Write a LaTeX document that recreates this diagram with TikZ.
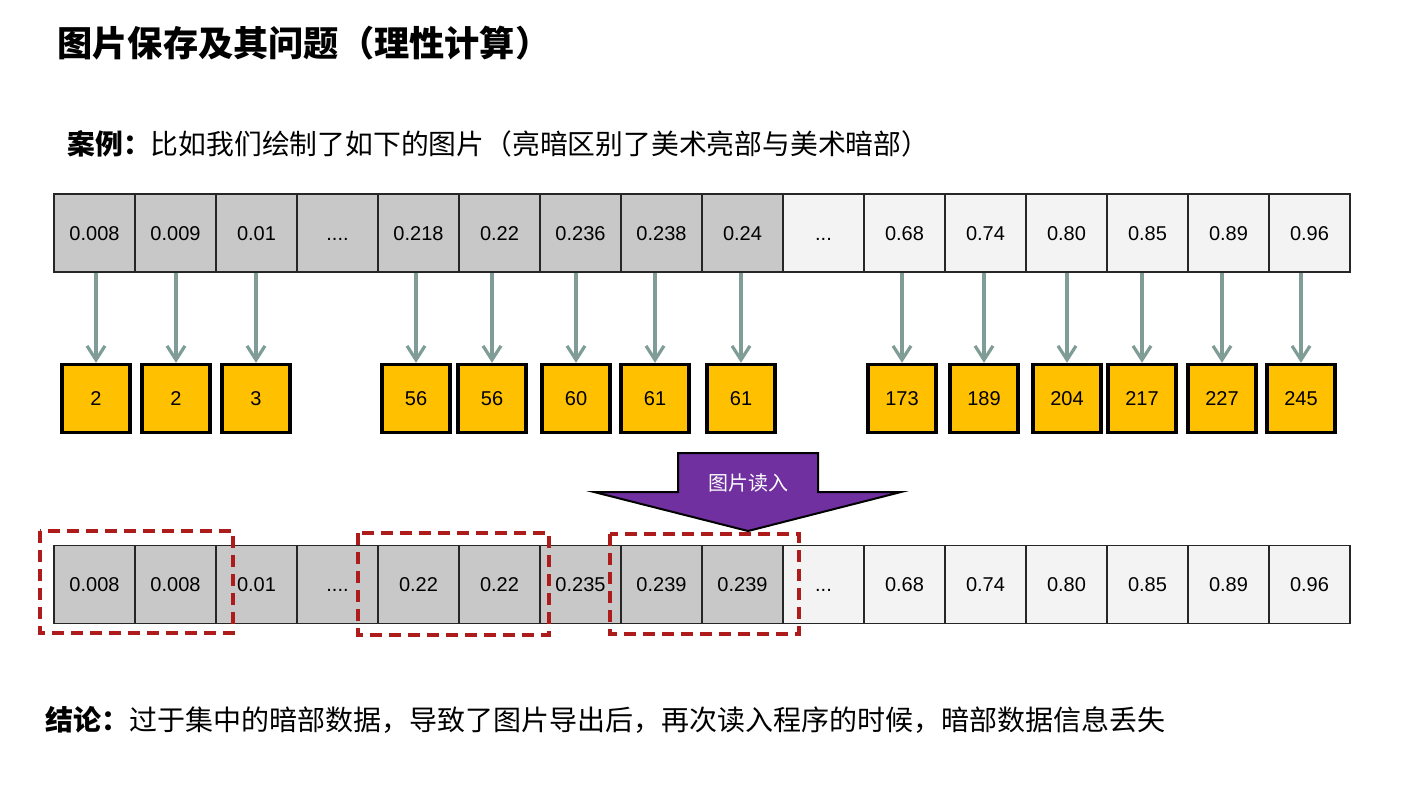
\documentclass[tikz,border=0pt]{standalone}
\usepackage{fontspec}
\setmainfont{Liberation Sans}
\newfontfamily\cjk{Noto Sans CJK SC}
\usetikzlibrary{positioning,arrows.meta}
\definecolor{cellgray}{HTML}{C8C8C8}
\definecolor{celllight}{HTML}{F3F3F3}
\definecolor{pixyellow}{HTML}{FFC000}
\definecolor{mapgreen}{HTML}{7F9C96}
\definecolor{readpurple}{HTML}{7030A0}
\definecolor{lossred}{HTML}{AE1B1B}
\newcommand\fourdot{....}
\newcommand\threedot{...}
\tikzset{
  cell/.style={draw=black!85,line width=0.6pt,minimum width=40.5pt,minimum height=39pt,inner sep=0pt,text height=7.2pt,text depth=0pt,font=\fontsize{10}{12}\selectfont},
  dark/.style={cell,fill=cellgray},
  light/.style={cell,fill=celllight},
  pix/.style={draw=black,line width=1.7pt,fill=pixyellow,minimum width=34pt,minimum height=34pt,inner sep=0pt,text height=7.2pt,text depth=0pt,font=\fontsize{10}{12}\selectfont},
  map/.style={draw=mapgreen,line width=1.6pt,-{Straight Barb[length=7pt,width=9pt]}},
  lost/.style={draw=lossred,line width=1.6pt,dash pattern=on 6pt off 3.5pt},
  line/.style={anchor=west,inner sep=0pt},
}
\begin{document}
\begin{tikzpicture}[x=0.5pt,y=-0.5pt]
\useasboundingbox[fill=white] (0,0) rectangle (1425,811);
\node[line,font=\cjk\bfseries\fontsize{17.6}{20}\selectfont] (title) at (57,43) {图片保存及其问题（理性计算）};
\node[line,font=\cjk\fontsize{13.9}{16}\selectfont] (case) at (67,144) {{\bfseries 案例：}比如我们绘制了如下的图片（亮暗区别了美术亮部与美术暗部）};
% values before saving
\foreach \v/\s [count=\i] in {0.008/dark,0.009/dark,0.01/dark,\fourdot/dark,0.218/dark,0.22/dark,0.236/dark,0.238/dark,0.24/dark,\threedot/light,0.68/light,0.74/light,0.80/light,0.85/light,0.89/light,0.96/light}
  \node[\s] (t\i) at ({13.5+81*\i},233) {\v};
% saved 8 bit values
\foreach \i/\x/\v in {1/96/2,2/176/2,3/256/3,5/416/56,6/492/56,7/576/60,8/655/61,9/741/61,11/902/173,12/984/189,13/1067/204,14/1142/217,15/1222/227,16/1301/245}{
  \node[pix] (p\i) at (\x,398.5) {\v};
  \draw[map] (t\i.south -| p\i) -- (p\i.north);
}
% values read back
\foreach \v/\s [count=\i] in {0.008/dark,0.008/dark,0.01/dark,\fourdot/dark,0.22/dark,0.22/dark,0.235/dark,0.239/dark,0.239/dark,\threedot/light,0.68/light,0.74/light,0.80/light,0.85/light,0.89/light,0.96/light}
  \node[\s] (b\i) at ({13.5+81*\i},584.5) {\v};
\draw[fill=readpurple,line width=1pt,line join=miter] (678,453) -- (818,453) -- (818,492) -- (901,492) -- (748,531) -- (594,492) -- (678,492) -- cycle;
\node[font=\cjk\fontsize{10}{12}\selectfont,text=white] (read) at (748,483) {图片读入};
\draw[lost] (40,531) rectangle (233,633);
\draw[lost] (358,533) rectangle (549,635);
\draw[lost] (610,534) rectangle (799,634);
\node[line,font=\cjk\fontsize{14}{17}\selectfont] (end) at (45,720) {{\bfseries 结论：}过于集中的暗部数据，导致了图片导出后，再次读入程序的时候，暗部数据信息丢失};
\end{tikzpicture}
\end{document}
